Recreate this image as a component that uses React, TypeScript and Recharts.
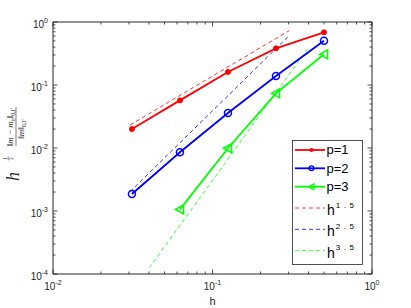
import { LineChart, Line, XAxis, YAxis, Legend } from "recharts"

// mesh sizes h = 1/32 ... 1/2 and relative errors for each degree p
const hValues = [0.03125, 0.0625, 0.125, 0.25, 0.5]
const errP1 = [0.02, 0.057, 0.161, 0.382, 0.686]
const errP2 = [0.00186, 0.00855, 0.036, 0.139, 0.505]
const hValuesP3 = [0.0625, 0.125, 0.25, 0.5]
const errP3 = [0.00106, 0.0099, 0.0738, 0.307]

// reference slope lines (end points)
const slope15H = [0.0304, 0.303]
const slope15Y = [0.0232, 0.73]
const slope25H = [0.0304, 0.301]
const slope25Y = [0.00202, 0.6]
const slope35H = [0.0402, 0.404]
const slope35Y = [0.000126, 0.405]

const xTicks = [
  0.01, 0.02, 0.03, 0.04, 0.05, 0.06, 0.07, 0.08, 0.09,
  0.1, 0.2, 0.3, 0.4, 0.5, 0.6, 0.7, 0.8, 0.9, 1,
]
const yTicks = [
  0.0001, 0.0002, 0.0003, 0.0004, 0.0005, 0.0006, 0.0007, 0.0008, 0.0009,
  0.001, 0.002, 0.003, 0.004, 0.005, 0.006, 0.007, 0.008, 0.009,
  0.01, 0.02, 0.03, 0.04, 0.05, 0.06, 0.07, 0.08, 0.09,
  0.1, 0.2, 0.3, 0.4, 0.5, 0.6, 0.7, 0.8, 0.9, 1,
]

const degreeLabels = ["p=1", "p=2", "p=3"]
const slopeLabels = ["1.5", "2.5", "3.5"]

const RED = "#ff0000"
const BLUE = "#0000ff"
const GREEN = "#00ff00"
const AXIS = "#262626"
const SANS = "'Liberation Sans', Arial, sans-serif"
const SERIF = "'Liberation Serif', 'DejaVu Serif', serif"

const toPoints = (hs: number[], ys: number[]) => hs.map((h, i) => ({ h, y: ys[i] }))

const p1Data = toPoints(hValues, errP1)
const p2Data = toPoints(hValues, errP2)
const p3Data = toPoints(hValuesP3, errP3)
const ref15Data = toPoints(slope15H, slope15Y)
const ref25Data = toPoints(slope25H, slope25Y)
const ref35Data = toPoints(slope35H, slope35Y)

const isMajor = (v: number) => Math.abs(Math.log10(v) - Math.round(Math.log10(v))) < 1e-6

const AxisTick = (props: any) => {
  const { x, y, payload, side } = props
  const v = payload.value
  const major = isMajor(v)
  const len = major ? 4.5 : 2.5
  const exp = Math.round(Math.log10(v))
  let tick = null
  if (side === "bottom") tick = <line x1={x} y1={y} x2={x} y2={y - len} stroke={AXIS} strokeWidth={0.8} />
  if (side === "top") tick = <line x1={x} y1={y} x2={x} y2={y + len} stroke={AXIS} strokeWidth={0.8} />
  if (side === "left") tick = <line x1={x} y1={y} x2={x + len} y2={y} stroke={AXIS} strokeWidth={0.8} />
  if (side === "right") tick = <line x1={x} y1={y} x2={x - len} y2={y} stroke={AXIS} strokeWidth={0.8} />
  let label = null
  if (major && side === "bottom") {
    label = (
      <text x={x} y={y + 16} textAnchor="middle" fontSize={10} fill={AXIS} fontFamily={SANS}>
        10<tspan dy={-5} fontSize={7}>{exp}</tspan>
      </text>
    )
  }
  if (major && side === "left") {
    label = (
      <text x={x - 5} y={y + 5.5} textAnchor="end" fontSize={10} fill={AXIS} fontFamily={SANS}>
        10<tspan dy={-5} fontSize={7}>{exp}</tspan>
      </text>
    )
  }
  return (
    <g>
      {tick}
      {label}
    </g>
  )
}

// rotated y label: h^(1/2) * ||m - m_h|| / ||m||
const YLabel = () => (
  <svg width={40} height={308} style={{ position: "absolute", left: 0, top: 0, pointerEvents: "none" }}>
    <g transform="translate(16,145) rotate(-90)" fill={AXIS} fontFamily={SERIF}>
      <text x={-36} y={3} fontSize={18} fontStyle="italic">h</text>
      <text x={-13.5} y={-8.8} fontSize={5.5} textAnchor="middle">1</text>
      <line x1={-15.5} y1={-7.8} x2={-11.5} y2={-7.8} stroke={AXIS} strokeWidth={0.5} />
      <text x={-13.5} y={-3.5} fontSize={5.5} textAnchor="middle">2</text>
      <text x={18} y={-3} fontSize={9} textAnchor="middle">
        ‖<tspan fontStyle="italic">m</tspan> − <tspan fontStyle="italic">m</tspan>
        <tspan fontSize={6} dy={2} fontStyle="italic">h</tspan>
        <tspan dy={-2}>‖</tspan>
        <tspan fontSize={6} dy={2}>0,Γ</tspan>
      </text>
      <line x1={-1} y1={0} x2={38} y2={0} stroke={AXIS} strokeWidth={0.6} />
      <text x={16} y={7.5} fontSize={9} textAnchor="middle">
        ‖<tspan fontStyle="italic">m</tspan>‖
        <tspan fontSize={6} dy={2}>0,Γ</tspan>
      </text>
    </g>
  </svg>
)

const XLabel = () => (
  <text x={212.5} y={305} textAnchor="middle" fontSize={11} fill={AXIS} fontFamily={SANS}>h</text>
)

const redDot = (props: any) => (
  <circle key={`r${props.index}`} cx={props.cx} cy={props.cy} r={2.5} fill={RED} stroke={RED} strokeWidth={1} />
)
const blueDot = (props: any) => (
  <circle key={`b${props.index}`} cx={props.cx} cy={props.cy} r={3.5} fill="none" stroke={BLUE} strokeWidth={1.5} />
)
const triangle = (cx: number, cy: number, s: number) =>
  `${cx - s},${cy} ${cx + s * 0.8},${cy - s} ${cx + s * 0.8},${cy + s}`
const greenDot = (props: any) => (
  <polygon key={`g${props.index}`} points={triangle(props.cx, props.cy, 4.5)} fill="none" stroke={GREEN} strokeWidth={1.5} />
)

const LegendBox = () => {
  const solidColors = [RED, BLUE, GREEN]
  const rows = [10, 28.3, 46.7, 68, 89.3, 110.7]
  return (
    <svg width={71} height={125} style={{ display: "block" }}>
      <rect x={0.5} y={0.5} width={70} height={124} fill="#fff" stroke={AXIS} strokeWidth={0.8} />
      {degreeLabels.map((lbl, i) => {
        const cy = rows[i]
        return (
          <g key={lbl}>
            <line x1={3} y1={cy} x2={33} y2={cy} stroke={solidColors[i]} strokeWidth={1.8} />
            {i === 0 && <circle cx={19.5} cy={cy} r={2} fill={RED} />}
            {i === 1 && <circle cx={19.5} cy={cy} r={2.4} fill="none" stroke={BLUE} strokeWidth={1.2} />}
            {i === 2 && <polygon points={triangle(19.5, cy, 3)} fill="none" stroke={GREEN} strokeWidth={1.2} />}
            <text x={34.5} y={cy + 4.4} fontSize={13} fill="#000" fontFamily={SANS}>{lbl}</text>
          </g>
        )
      })}
      {slopeLabels.map((s, i) => {
        const cy = rows[i + 3]
        return (
          <g key={s}>
            <line x1={3} y1={cy} x2={33} y2={cy} stroke={solidColors[i]} strokeWidth={0.8} strokeDasharray="4 3" />
            <text x={35} y={cy + 7} fontSize={14} fill="#000" fontFamily={SANS}>
              h<tspan dx={1} dy={-7.5} fontSize={8} letterSpacing={3.5}>{s}</tspan>
            </text>
          </g>
        )
      })}
    </svg>
  )
}

const axisCommon = {
  type: "number" as const,
  scale: "log" as const,
  allowDataOverflow: true,
  interval: 0,
  tickLine: false,
  tickSize: 0,
  tickMargin: 0,
  stroke: AXIS,
}

export default function App() {
  return (
    <div style={{ position: "absolute", left: 0, top: 0, width: 411, height: 308, background: "#fff" }}>
      <LineChart width={411} height={308} margin={{ top: 21, right: 38, bottom: 0, left: 0 }}>
        <XAxis
          {...axisCommon}
          dataKey="h"
          domain={[0.01, 1]}
          ticks={xTicks}
          height={34}
          tick={(p: any) => <AxisTick {...p} side="bottom" />}
          label={{ content: () => <XLabel /> }}
        />
        <XAxis
          {...axisCommon}
          xAxisId="top"
          orientation="top"
          dataKey="h"
          domain={[0.01, 1]}
          ticks={xTicks}
          height={1}
          tick={(p: any) => <AxisTick {...p} side="top" />}
        />
        <YAxis
          {...axisCommon}
          domain={[0.0001, 1]}
          ticks={yTicks}
          width={53}
          tick={(p: any) => <AxisTick {...p} side="left" />}
        />
        <YAxis
          {...axisCommon}
          yAxisId="right"
          orientation="right"
          domain={[0.0001, 1]}
          ticks={yTicks}
          width={1}
          tick={(p: any) => <AxisTick {...p} side="right" />}
        />
        {/* invisible series so the mirrored box axes get drawn */}
        <Line xAxisId="top" yAxisId="right" data={p1Data} dataKey="y" stroke="none" dot={false} legendType="none" isAnimationActive={false} />
        <Line data={ref15Data} dataKey="y" stroke={RED} strokeWidth={0.8} strokeDasharray="4 3" dot={false} isAnimationActive={false} />
        <Line data={ref25Data} dataKey="y" stroke={BLUE} strokeWidth={0.8} strokeDasharray="4 3" dot={false} isAnimationActive={false} />
        <Line data={ref35Data} dataKey="y" stroke={GREEN} strokeWidth={0.8} strokeDasharray="4 3" dot={false} isAnimationActive={false} />
        <Line data={p1Data} dataKey="y" stroke={RED} strokeWidth={1.8} dot={redDot} isAnimationActive={false} />
        <Line data={p2Data} dataKey="y" stroke={BLUE} strokeWidth={1.8} dot={blueDot} isAnimationActive={false} />
        <Line data={p3Data} dataKey="y" stroke={GREEN} strokeWidth={1.8} dot={greenDot} isAnimationActive={false} />
        <Legend
          layout="vertical"
          align="center"
          verticalAlign="middle"
          content={() => <LegendBox />}
          wrapperStyle={{ left: 292, top: 140, width: 71, height: 125 }}
        />
      </LineChart>
      <YLabel />
    </div>
  )
}
